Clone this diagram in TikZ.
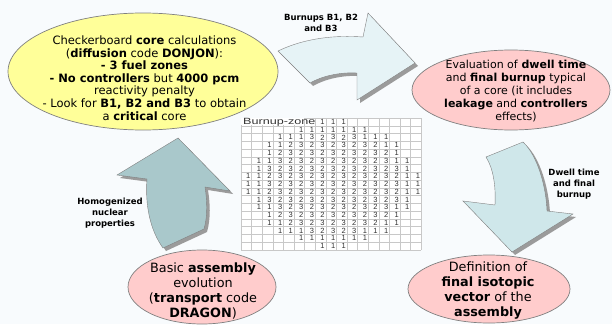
\documentclass[tikz,border=0pt]{standalone}
\usepackage{fontspec}
\setmainfont{DejaVu Sans}
\newfontfamily\cellfont{Liberation Sans}
\usetikzlibrary{shapes.geometric}

\definecolor{paperbg}{RGB}{248,251,253}
\definecolor{coreyellow}{RGB}{255,255,153}
\definecolor{steppink}{RGB}{255,204,204}
\definecolor{arrowpale}{RGB}{230,243,246}
\definecolor{arrowlight}{RGB}{207,231,234}
\definecolor{arrowteal}{RGB}{169,200,203}
\definecolor{shadegrey}{RGB}{155,155,155}
\definecolor{rimgrey}{RGB}{128,128,128}
\definecolor{cellgrey}{RGB}{200,200,200}

\def\topArrow{(278,51) .. controls (305,38) and (335,35) .. (363,37) -- (368,13) -- (415,63) -- (357,100) -- (357,73) .. controls (340,72) and (322,76) .. (310,83) -- cycle}
\def\rightArrow{(486,157) -- (523,142) .. controls (537,155) and (546,185) .. (547,211) -- (573,214) -- (512,252) -- (463,201) -- (495,205) .. controls (496,185) and (493,168) .. (486,157) -- cycle}
\def\leftArrow{(163,248) -- (204,229) .. controls (208,215) and (207,200) .. (205,187) -- (230,191) -- (178,138) -- (117,175) -- (147,179) .. controls (145,205) and (150,230) .. (163,248) -- cycle}

\begin{document}
\begin{tikzpicture}[x=1pt, y=-1pt,
	bubble/.style={ellipse, draw=rimgrey, line width=0.7pt, inner sep=0pt},
	bubbletext/.style={align=center, inner sep=0pt, text=black},
	flowlabel/.style={align=center, inner sep=0pt, font=\bfseries\fontsize{8.5}{11}\selectfont},
	cellnum/.style={anchor=east, inner sep=1pt, font=\cellfont\fontsize{7.5}{7.5}\selectfont, text=black!80},
	gridline/.style={draw=cellgrey, line width=0.4pt}]
		%%%%% START %%%%%
		
		\useasboundingbox (0,0) rectangle (612,324);
		\fill[paperbg] (0,0) rectangle (612,324);
		
		\fill[white] (241,118) rectangle (421.2,249.92);
		\foreach \k in {0,...,17}{
			\draw[gridline] ({241+10.6*\k},118) -- ({241+10.6*\k},249.92);
			\draw[gridline] (241,{118+7.76*\k}) -- (421.2,{118+7.76*\k});
		}
		\fill[white] (241.4,118.4) rectangle (304.4,125.4);
		\node[anchor=west, inner sep=0pt, font=\cellfont\fontsize{9}{9}\selectfont, text=black!80] (zonelabel) at (243,122) {\scalebox{1.4}[1]{Burnup-zone}};
		
		\foreach \row/\first/\rim in {0/7/9, 1/5/9, 2/3/3, 3/2/2, 4/2/1, 5/1/2, 6/1/1, 7/0/2, 8/0/2, 9/0/2, 10/1/1, 11/1/2, 12/2/1, 13/2/2, 14/3/3, 15/5/9, 16/7/9}{
			\pgfmathtruncatemacro\lastc{16-\first}
			\foreach \col in {\first,...,\lastc}{
				\pgfmathtruncatemacro\cellval{((\col<\first+\rim) || (\col>\lastc-\rim)) ? 1 : ((mod(\row+\col,2)==0) ? 3 : 2)}
				\node[cellnum] (c-\row-\col) at ({241+10.6*(\col+1)}, {118+7.76*(\row+0.5)}) {\cellval};
			}
		}
		
		\fill[shadegrey, shift={(3,3)}] \topArrow;
		\filldraw[fill=arrowpale, draw=rimgrey, line width=0.4pt] \topArrow;
		\fill[shadegrey, shift={(3,3)}] \rightArrow;
		\filldraw[fill=arrowlight, draw=rimgrey, line width=0.4pt] \rightArrow;
		\fill[shadegrey, shift={(3,3)}] \leftArrow;
		\filldraw[fill=arrowteal, draw=rimgrey, line width=0.4pt] \leftArrow;
		
		\node[bubble, fill=coreyellow, minimum width=270pt, minimum height=117pt] (donjon) at (143,71.5) {};
		\node[bubbletext, font=\fontsize{11.5}{12.6}\selectfont] (donjontext) at (144.5,78) {Checkerboard \textbf{core} calculations\\ (\textbf{diffusion} code \textbf{DONJON}):\\ \textbf{- 3 fuel zones}\\ \textbf{- No controllers} but \textbf{4000 pcm}\\ reactivity penalty\\ - Look for \textbf{B1, B2 and B3} to obtain\\ a \textbf{critical} core};
		
		\node[bubble, fill=steppink, minimum width=198pt, minimum height=80pt] (dwell) at (511,90) {};
		\node[bubbletext, font=\fontsize{11}{13}\selectfont] (dwelltext) at (516,91) {Evaluation of \textbf{dwell time}\\ and \textbf{final burnup} typical\\ of a core (it includes\\ \textbf{leakage} and \textbf{controllers}\\ effects)};
		
		\node[bubble, fill=steppink, minimum width=162pt, minimum height=68pt] (isotopic) at (489,289) {};
		\node[bubbletext, font=\fontsize{12.8}{15}\selectfont] (isotopictext) at (488,291) {Definition of\\ \textbf{final isotopic}\\ \textbf{vector} of the\\ \textbf{assembly}};
		
		\node[bubble, fill=steppink, minimum width=148pt, minimum height=74pt] (dragon) at (202,287) {};
		\node[bubbletext, font=\fontsize{12.8}{15}\selectfont] (dragontext) at (203,291) {Basic \textbf{assembly}\\ evolution\\ (\textbf{transport} code\\ \textbf{DRAGON})};
		
		\node[flowlabel] (burnupslabel) at (321,22.5) {Burnups B1, B2\\ and B3};
		\node[flowlabel] (dwelllabel) at (574,183.8) {Dwell time\\ and final\\ burnup};
		\node[flowlabel] (homoglabel) at (110,213.5) {Homogenized\\ nuclear\\ properties};
		
		%%%%% END %%%%%
	\end{tikzpicture}
\end{document}
